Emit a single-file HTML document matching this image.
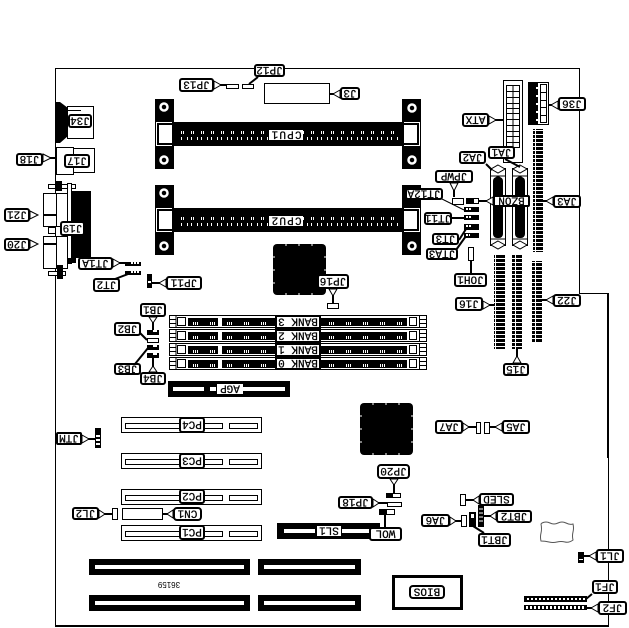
<!DOCTYPE html>
<html><head><meta charset="utf-8"><style>
html,body{margin:0;padding:0;background:#fff}
svg{display:block}
.c{shape-rendering:crispEdges}
.l{fill:#fff;stroke:#000;stroke-width:2}
.o{fill:#fff;stroke:#000;stroke-width:1}
.k{fill:none;stroke:#000;stroke-width:2}
.n{fill:none;stroke:#000;stroke-width:1}
.w{fill:#fff;stroke:#000;stroke-width:1}
.t{font:11px "Liberation Mono",monospace;text-anchor:middle;fill:#000;stroke:#000;stroke-width:.25}
</style></head><body>
<svg width="629" height="628" viewBox="0 0 629 628" xmlns="http://www.w3.org/2000/svg">
<defs>
<pattern id="st" width="10" height="4" patternUnits="userSpaceOnUse"><rect width="10" height="4" fill="#000"/><rect y="2" width="10" height="1" fill="#fff"/><rect x="5" width="1" height="4" fill="#fff"/></pattern>
<g id="cpu">
<rect class="c" x="155" y="99" width="19" height="70" fill="#000"/>
<rect class="c" x="155" y="122" width="266" height="24" fill="#000"/>
<rect class="c" x="402" y="99" width="19" height="70" fill="#000"/>
<circle cx="164" cy="107" r="3.5" fill="none" stroke="#fff" stroke-width="2.5"/>
<circle cx="164" cy="160" r="3.5" fill="none" stroke="#fff" stroke-width="2.5"/>
<circle cx="412" cy="108" r="3.5" fill="none" stroke="#fff" stroke-width="2.5"/>
<circle cx="412" cy="160" r="3.5" fill="none" stroke="#fff" stroke-width="2.5"/>
<path class="c" d="M172 122.500H156.500V145.500H172M404 122.500H419.500V145.500H404" fill="none" stroke="#fff"/>
<rect class="c" x="159" y="125" width="13" height="18" fill="#fff"/>
<rect class="c" x="404" y="125" width="13" height="18" fill="#fff"/>
<line class="c" x1="181" y1="132.500" x2="400" y2="132.500" stroke="#fff" stroke-width="3" stroke-dasharray="1 1 1 7"/>
<line class="c" x1="181" y1="138.500" x2="400" y2="138.500" stroke="#fff" stroke-width="3" stroke-dasharray="1 5 1 3"/>
</g>
<g id="bank">
<rect class="c" x="169.500" y="0.500" width="257" height="12" fill="#fff" stroke="#000"/>
<rect class="c" x="188" y="3" width="219" height="8" fill="#000"/>
<rect class="c" x="218" y="1" width="4" height="11" fill="#fff"/>
<rect class="c" x="177.500" y="2.500" width="8" height="8" fill="#fff" stroke="#000"/>
<rect class="c" x="409.500" y="2.500" width="7" height="8" fill="#fff" stroke="#000"/>
<path class="c" d="M176 .5V12.500M170 4.500H176M170 8.500H176M419.500 .5V12.500M420 4.500H426M420 8.500H426" stroke="#000" fill="none"/>
<line class="c" x1="193" y1="8.500" x2="405" y2="8.500" stroke="#fff" stroke-width="3" stroke-dasharray="1 1 1 1 1 12"/>
</g>
<g id="pci">
<rect class="c" x="121.500" y=".5" width="140" height="15" fill="#fff" stroke="#000"/>
<rect class="c" x="125.500" y="6.500" width="97" height="5" fill="#fff" stroke="#000"/>
<rect class="c" x="229.500" y="6.500" width="28" height="5" fill="#fff" stroke="#000"/>
</g>
<g id="dsub">
<rect class="o" x="490.500" y="168.500" width="15" height="77"/>
<path d="M498 165l7 4-7 4-7-4zM498 241l7 4-7 4-7-4z" class="o"/>
<rect x="493" y="177" width="10" height="61" rx="4" fill="#000"/>
<rect x="496" y="176" width="4" height="60" rx="2" fill="#000"/>
<path class="n" d="M491 176H505M491 239H505"/>
</g>
</defs>

<g class="c">
<path d="M55.500 626V68.500H579.500V293.500H608" fill="none" stroke="#000"/>
<rect x="55" y="625" width="553" height="2" fill="#000"/>
<rect x="607" y="293" width="2" height="165" fill="#000"/>
<rect x="608" y="458" width="1" height="169" fill="#000"/>
</g>

<!-- back panel -->
<path d="M55 102h5l8 6v28l-8 7h-5z" fill="#000"/>
<rect class="o c" x="67.500" y="106.500" width="26" height="32"/>
<rect class="c" x="68" y="110" width="13" height="1" fill="#000"/>
<rect class="o c" x="56.500" y="147.500" width="17" height="27"/>
<rect class="o c" x="73.500" y="148.500" width="21" height="24"/>
<rect class="c" x="72" y="191" width="19" height="67" fill="#000"/>
<rect class="c" x="48.500" y="184.500" width="27" height="4" fill="#fff" stroke="#000"/>
<rect class="c" x="55" y="181" width="7" height="10" fill="#000"/>
<rect class="c" x="67.500" y="183.500" width="4" height="80" fill="#fff" stroke="#000"/>
<rect class="o c" x="43.500" y="193.500" width="13" height="33"/>
<rect class="o c" x="56.500" y="193.500" width="11" height="33"/>
<rect class="o c" x="43.500" y="236.500" width="13" height="32"/>
<rect class="o c" x="56.500" y="236.500" width="11" height="32"/>
<rect class="c" x="48.500" y="227.500" width="7" height="6" fill="#fff" stroke="#000"/>
<rect class="c" x="48.500" y="271.500" width="17" height="4" fill="#fff" stroke="#000"/>
<rect class="c" x="57" y="265" width="6" height="14" fill="#000"/>
<rect class="c" x="68" y="258" width="8" height="5" fill="#000"/>

<use href="#cpu"/>
<use href="#cpu" y="86"/>

<!-- chips -->
<rect x="273" y="244" width="53" height="51" rx="4" fill="#000"/>
<rect x="360" y="403" width="53" height="52" rx="4" fill="#000"/>
<path class="c" d="M273 257h2M273 270h2M273 283h2M324 257h2M324 270h2M324 283h2M286 244v2M299 244v2M312 244v2M286 293v2M299 293v2M312 293v2M360 416h2M360 429h2M360 442h2M411 416h2M411 429h2M411 442h2M373 403v2M386 403v2M399 403v2M373 453v2M386 453v2M399 453v2" stroke="#fff" fill="none"/>

<!-- small parts top -->
<rect class="o c" x="264.500" y="83.500" width="65" height="20"/>
<rect class="o c" x="226.500" y="84.500" width="12" height="4"/>
<rect class="o c" x="242.500" y="84.500" width="11" height="4"/>

<!-- ATX -->
<rect class="o c" x="503.500" y="80.500" width="19" height="82"/>
<path class="c" d="M506.500 85.500H519.500V147.500H506.500ZM513 85.500V147.500M506.500 91.500H519.500M506.500 97.500H519.500M506.500 103.500H519.500M506.500 108.500H519.500M506.500 113.500H519.500M506.500 119.500H519.500M506.500 125.500H519.500M506.500 131.500H519.500M506.500 136.500H519.500M506.500 142.500H519.500" fill="none" stroke="#000"/>
<!-- J36 -->
<rect class="o c" x="528.500" y="82.500" width="20" height="42"/>
<rect class="c" x="529" y="83" width="9" height="41" fill="#000"/>
<path class="c" d="M540.500 84.500H546.500V122.500H540.500ZM540.500 92.500H546.500M540.500 100.500H546.500M540.500 107.500H546.500M540.500 115.500H546.500" fill="none" stroke="#000"/>
<path class="c" d="M536 88h3M536 96h3M536 104h3M536 112h3M536 120h3" stroke="#fff" stroke-width="2"/>

<!-- strips -->
<rect class="c" x="533" y="129" width="10" height="123" fill="url(#st)"/>
<rect class="c" x="494" y="254" width="11" height="95" fill="url(#st)"/>
<rect class="c" x="512" y="254" width="10" height="95" fill="url(#st)"/>
<rect class="c" x="532" y="261" width="10" height="81" fill="url(#st)"/>

<use href="#dsub"/>
<use href="#dsub" x="22"/>

<!-- headers right group -->
<rect class="o c" x="452.500" y="198.500" width="11" height="6"/>
<rect class="c" x="466" y="198" width="13" height="6" fill="#000"/>
<rect class="c" x="474" y="199" width="4" height="4" fill="#fff"/>
<rect class="c" x="464" y="207" width="15" height="5" fill="#000"/>
<rect class="c" x="464" y="215" width="15" height="5" fill="#000"/>
<rect class="c" x="464" y="224" width="15" height="6" fill="#000"/>
<rect class="c" x="464" y="233" width="15" height="5" fill="#000"/>
<path class="c" d="M466 209h5M466 217h5M466 226h5M466 235h4" stroke="#fff" stroke-width="2" stroke-dasharray="2 1"/>
<rect class="o c" x="468.500" y="247.500" width="5" height="13"/>

<!-- left headers -->
<rect class="c" x="125" y="262" width="16" height="4" fill="#000"/>
<rect class="c" x="125" y="271" width="16" height="4" fill="#000"/>
<path class="c" d="M131 263h9M131 272h9" stroke="#fff" stroke-width="2" stroke-dasharray="2 1"/>
<rect class="c" x="147" y="274" width="5" height="14" fill="#000"/>
<rect class="c" x="148" y="281" width="3" height="2" fill="#fff"/>
<rect class="c" x="147" y="330" width="12" height="5" fill="#000"/>
<rect class="o c" x="147.500" y="338.500" width="11" height="4"/>
<rect class="c" x="147" y="345" width="12" height="5" fill="#000"/>
<rect class="c" x="147" y="353" width="12" height="5" fill="#000"/>
<path class="c" d="M153 331h4M153 346h4M153 354h4" stroke="#fff" stroke-width="2"/>

<!-- banks -->
<use href="#bank" y="315"/>
<use href="#bank" y="329"/>
<use href="#bank" y="343"/>
<use href="#bank" y="357"/>

<!-- AGP -->
<rect class="c" x="168" y="381" width="122" height="16" fill="#000"/>
<rect class="c" x="173" y="387" width="31" height="4" fill="#fff"/>
<rect class="c" x="210" y="387" width="6" height="4" fill="#fff"/>
<rect class="c" x="243" y="387" width="42" height="4" fill="#fff"/>
<rect class="c" x="217" y="384" width="26" height="10" fill="#fff"/>

<!-- PCI -->
<use href="#pci" y="417"/>
<use href="#pci" y="453"/>
<use href="#pci" y="489"/>
<use href="#pci" y="525"/>
<rect class="c" x="95" y="428" width="6" height="20" fill="#000"/>
<path class="c" d="M96 436h4M96 440h4M96 444h4" stroke="#fff" stroke-width="2"/>
<rect class="o c" x="112.500" y="508.500" width="5" height="11"/>
<rect class="o c" x="122.500" y="508.500" width="40" height="11"/>

<!-- ISA -->
<g class="c" fill="#000">
<rect x="89" y="559" width="161" height="16"/><rect x="89" y="595" width="161" height="16"/>
<rect x="258" y="559" width="103" height="16"/><rect x="258" y="595" width="103" height="16"/>
</g>
<g class="c" fill="#fff">
<rect x="95" y="565" width="149" height="4"/><rect x="95" y="601" width="149" height="4"/>
<rect x="264" y="565" width="91" height="4"/><rect x="264" y="601" width="91" height="4"/>
</g>
<text transform="rotate(180 169 584.500)" x="169" y="587" style="font:8px 'Liberation Sans',sans-serif;text-anchor:middle">36159</text>

<!-- SL1 -->
<rect class="c" x="277" y="523" width="103" height="16" fill="#000"/>
<rect class="c" x="284" y="529" width="31" height="4" fill="#fff"/>
<rect class="c" x="342" y="529" width="28" height="4" fill="#fff"/>
<rect class="c" x="317" y="526" width="24" height="10" fill="#fff"/>
<rect class="c" x="379" y="509" width="16" height="6" fill="#000"/>
<rect class="c" x="387" y="510" width="7" height="4" fill="#fff"/>
<rect class="o c" x="387.500" y="502.500" width="14" height="4"/>
<rect class="c" x="386" y="493" width="15" height="5" fill="#000"/>
<rect class="c" x="393" y="494" width="7" height="3" fill="#fff"/>

<!-- BIOS -->
<rect class="c" x="393.500" y="576.500" width="68" height="32" fill="#fff" stroke="#000" stroke-width="3"/>

<!-- JA parts -->
<rect class="o c" x="476.500" y="422.500" width="4" height="11"/>
<rect class="o c" x="484.500" y="422.500" width="5" height="11"/>
<rect class="o c" x="461.500" y="515.500" width="5" height="11"/>
<rect class="o c" x="460.500" y="494.500" width="5" height="11"/>
<rect class="c" x="469" y="512" width="7" height="15" fill="#000"/>
<rect class="c" x="471" y="514" width="3" height="4" fill="#fff"/>
<rect class="c" x="478" y="505" width="6" height="22" fill="#000"/>
<path class="c" d="M479 509h4M479 513h4M479 517h4M479 521h4" stroke="#fff"/>
<path d="M542 523q4-2 8 0t8 0 8 0 7 1q1 4 0 8t0 8q-4 3-8 2t-8 0-8 0-8-1q-1-4 0-8t0-9z" fill="none" stroke="#555" stroke-width="1"/>
<rect class="c" x="578" y="552" width="6" height="11" fill="#000"/>
<rect class="c" x="579" y="559" width="4" height="1" fill="#fff"/>
<rect class="c" x="524" y="596" width="63" height="6" fill="#000"/>
<rect class="c" x="524" y="605" width="63" height="5" fill="#000"/>
<line class="c" x1="527" y1="599" x2="586" y2="599" stroke="#fff" stroke-width="2" stroke-dasharray="2 2"/>
<line class="c" x1="526" y1="607.500" x2="586" y2="607.500" stroke="#fff" stroke-width="3" stroke-dasharray="2 2"/>
<rect class="o c" x="327.500" y="303.500" width="11" height="5"/>

<!-- leaders -->
<g class="k">
<path d="M214 85H226M258 77L249 84M340 94H329M56 158H43M43 215H56M43 244H56"/>
<path d="M489 120H503M558 105H548M553 201H543M486 164L492 170M505 159L520 167"/>
<path d="M454 183V197M493 201H479M452 218H464M459 240L466 229M456 250L466 236M471 260V273"/>
<path d="M483 305H494M517 363V349M553 300H542M463 427H476M502 427H490"/>
<path d="M333 289V303M166 283H152M113 263H125M115 279L128 274M153 317V330M135 328L147 340M135 364L148 348M153 372V358"/>
<path d="M82 439H95M99 514H112M173 514H162M385 527L385 515M373 503H387M394 479V493"/>
<path d="M450 521H461M479 500H466M496 516H484M484 533L473 526M596 556H584M592 594L586 599M598 608H587"/>
</g>
<path d="M440 198L464 210" class="n"/>
<g class="w">
<path d="M214 81l7 4-7 4z"/><path d="M340 90l-7 4 7 4z"/><path d="M43 154l8 4-8 4z"/><path d="M30 211l8 4-8 4z"/><path d="M30 240l8 4-8 4z"/>
<path d="M489 116l7 4-7 4z"/><path d="M558 101l-7 4 7 4z"/><path d="M553 197l-7 4 7 4z"/><path d="M450 183l4 8 4-8z"/><path d="M493 197l-7 4 7 4z"/>
<path d="M483 301l7 4-7 4z"/><path d="M513 363l4-7 4 7z"/><path d="M553 296l-7 4 7 4z"/><path d="M463 423l6 4-6 4z"/><path d="M502 423l-7 4 7 4z"/>
<path d="M329 289l4 7 4-7z"/><path d="M166 279l-7 4 7 4z"/><path d="M113 259l7 4-7 4z"/><path d="M149 317l4 6 4-6z"/><path d="M149 372l4-6 4 6z"/>
<path d="M82 435l7 4-7 4z"/><path d="M99 510l6 4-6 4z"/><path d="M173 510l-6 4 6 4z"/><path d="M373 499l6 4-6 4z"/><path d="M390 479l4 6 4-6z"/>
<path d="M450 517l6 4-6 4z"/><path d="M479 496l-6 4 6 4z"/><path d="M496 512l-6 4 6 4z"/><path d="M596 552l-7 4 7 4z"/><path d="M598 604l-7 4 7 4z"/>
</g>

<!-- labels -->
<rect class="l" x="180" y="79" width="33" height="12" rx="2"/><text class="t" transform="rotate(180 196.500 85)" x="196.500" y="88.500">JP13</text>
<rect class="l" x="255" y="65" width="29" height="11" rx="2"/><text class="t" transform="rotate(180 269.500 70.500)" x="269.500" y="74">JP12</text>
<rect class="l" x="341" y="88" width="18" height="11" rx="2"/><text class="t" transform="rotate(180 350 93.500)" x="350" y="97">J3</text>
<rect class="l" x="69" y="115" width="22" height="12" rx="2"/><text class="t" transform="rotate(180 80 121)" x="80" y="124.500">J34</text>
<rect class="l" x="65" y="155" width="24" height="12" rx="2"/><text class="t" transform="rotate(180 77 161)" x="77" y="164.500">J17</text>
<rect class="l" x="17" y="154" width="25" height="11" rx="2"/><text class="t" transform="rotate(180 29.500 159.500)" x="29.500" y="163">J18</text>
<rect class="l" x="61" y="222" width="23" height="13" rx="2"/><text class="t" transform="rotate(180 72.500 228.500)" x="72.500" y="232">J19</text>
<rect class="l" x="5" y="209" width="24" height="12" rx="2"/><text class="t" transform="rotate(180 17 215)" x="17" y="218.500">J21</text>
<rect class="l" x="5" y="239" width="24" height="11" rx="2"/><text class="t" transform="rotate(180 17 244.500)" x="17" y="248">J20</text>
<rect class="l" x="463" y="114" width="25" height="12" rx="2"/><text class="t" transform="rotate(180 475.500 120)" x="475.500" y="123.500">ATX</text>
<rect class="l" x="559" y="98" width="26" height="12" rx="2"/><text class="t" transform="rotate(180 572 104)" x="572" y="107.500">J36</text>
<rect class="l" x="554" y="196" width="26" height="11" rx="2"/><text class="t" transform="rotate(180 567 201.500)" x="567" y="205">JA3</text>
<rect class="l" x="460" y="152" width="25" height="11" rx="2"/><text class="t" transform="rotate(180 472.500 157.500)" x="472.500" y="161">JA2</text>
<rect class="l" x="489" y="147" width="25" height="11" rx="2"/><text class="t" transform="rotate(180 501.500 152.500)" x="501.500" y="156">JA1</text>
<rect class="l" x="436" y="171" width="36" height="11" rx="2"/><text class="t" transform="rotate(180 454 176.500)" x="454" y="180">JPWP</text>
<rect class="l" x="494" y="196" width="35" height="10" rx="1"/><text class="t" transform="rotate(180 511.500 201)" x="511.500" y="204.500">BZON</text>
<rect class="l" x="406" y="189" width="36" height="10" rx="2"/><text class="t" transform="rotate(180 424 194)" x="424" y="197.500">JT12A</text>
<rect class="l" x="425" y="213" width="26" height="11" rx="2"/><text class="t" transform="rotate(180 438 218.500)" x="438" y="222">JT11</text>
<rect class="l" x="433" y="234" width="25" height="10" rx="2"/><text class="t" transform="rotate(180 445.500 239)" x="445.500" y="242.500">JT3</text>
<rect class="l" x="427" y="249" width="30" height="10" rx="2"/><text class="t" transform="rotate(180 442 254)" x="442" y="257.500">JTA3</text>
<rect class="l" x="455" y="274" width="31" height="12" rx="2"/><text class="t" transform="rotate(180 470.500 280)" x="470.500" y="283.500">JOH1</text>
<rect class="l" x="456" y="298" width="26" height="12" rx="2"/><text class="t" transform="rotate(180 469 304)" x="469" y="307.500">J16</text>
<rect class="l" x="504" y="364" width="24" height="11" rx="2"/><text class="t" transform="rotate(180 516 369.500)" x="516" y="373">J15</text>
<rect class="l" x="554" y="295" width="26" height="11" rx="2"/><text class="t" transform="rotate(180 567 300.500)" x="567" y="304">J22</text>
<rect class="l" x="436" y="421" width="26" height="12" rx="2"/><text class="t" transform="rotate(180 449 427)" x="449" y="430.500">JA7</text>
<rect class="l" x="503" y="421" width="26" height="12" rx="2"/><text class="t" transform="rotate(180 516 427)" x="516" y="430.500">JA5</text>
<rect class="l" x="318" y="275" width="30" height="13" rx="2"/><text class="t" transform="rotate(180 333 281.500)" x="333" y="285">JP16</text>
<rect class="l" x="167" y="277" width="34" height="12" rx="2"/><text class="t" transform="rotate(180 184 283)" x="184" y="286.500">JP11</text>
<rect class="l" x="79" y="258" width="33" height="11" rx="2"/><text class="t" transform="rotate(180 95.500 263.500)" x="95.500" y="267">JT1A</text>
<rect class="l" x="94" y="279" width="25" height="12" rx="2"/><text class="t" transform="rotate(180 106.500 285)" x="106.500" y="288.500">JT2</text>
<rect class="l" x="141" y="304" width="24" height="12" rx="2"/><text class="t" transform="rotate(180 153 310)" x="153" y="313.500">JB1</text>
<rect class="l" x="115" y="323" width="25" height="12" rx="2"/><text class="t" transform="rotate(180 127.500 329)" x="127.500" y="332.500">JB2</text>
<rect class="l" x="115" y="364" width="25" height="10" rx="2"/><text class="t" transform="rotate(180 127.500 369)" x="127.500" y="372.500">JB3</text>
<rect class="l" x="141" y="373" width="24" height="11" rx="2"/><text class="t" transform="rotate(180 153 378.500)" x="153" y="382">JB4</text>
<rect class="l" x="57" y="433" width="24" height="11" rx="1"/><text class="t" transform="rotate(180 69 438.500)" x="69" y="442">JTM</text>
<rect class="l" x="73" y="508" width="25" height="11" rx="2"/><text class="t" transform="rotate(180 85.500 513.500)" x="85.500" y="517">JL2</text>
<rect class="l" x="174" y="508" width="27" height="12" rx="3"/><text class="t" transform="rotate(180 187.500 514)" x="187.500" y="517.500">CN1</text>
<rect class="l" x="370" y="528" width="31" height="12" rx="2"/><text class="t" transform="rotate(180 385.500 534)" x="385.500" y="537.500">WOL</text>
<rect class="l" x="339" y="497" width="33" height="11" rx="2"/><text class="t" transform="rotate(180 355.500 502.500)" x="355.500" y="506">JP18</text>
<rect class="l" x="378" y="465" width="31" height="13" rx="3"/><text class="t" transform="rotate(180 393.500 471.500)" x="393.500" y="475">JP20</text>
<rect class="l" x="410" y="586" width="34" height="12" rx="3"/><text class="t" transform="rotate(180 427 592)" x="427" y="595.500">BIOS</text>
<rect class="l" x="422" y="515" width="27" height="11" rx="2"/><text class="t" transform="rotate(180 435.500 520.500)" x="435.500" y="524">JA6</text>
<rect class="l" x="480" y="494" width="33" height="11" rx="2"/><text class="t" transform="rotate(180 496.500 499.500)" x="496.500" y="503">SLED</text>
<rect class="l" x="497" y="511" width="34" height="11" rx="2"/><text class="t" transform="rotate(180 514 516.500)" x="514" y="520">JBT2</text>
<rect class="l" x="479" y="534" width="31" height="12" rx="2"/><text class="t" transform="rotate(180 494.500 540)" x="494.500" y="543.500">JBT1</text>
<rect class="l" x="597" y="550" width="26" height="12" rx="2"/><text class="t" transform="rotate(180 610 556)" x="610" y="559.500">JL1</text>
<rect class="l" x="593" y="581" width="24" height="12" rx="2"/><text class="t" transform="rotate(180 605 587)" x="605" y="590.500">JF1</text>
<rect class="l" x="599" y="602" width="27" height="12" rx="2"/><text class="t" transform="rotate(180 612.500 608)" x="612.500" y="611.500">JF2</text>

<!-- slot labels -->
<rect class="c" x="269" y="130" width="34" height="10" fill="#fff"/><text class="t" style="letter-spacing:1.2px" transform="rotate(180 286 135)" x="286" y="138.500">CPU1</text>
<rect class="c" x="269" y="216" width="34" height="10" fill="#fff"/><text class="t" style="letter-spacing:1.2px" transform="rotate(180 286 221)" x="286" y="224.500">CPU2</text>
<rect class="l" x="276" y="316" width="44" height="12"/><text class="t" transform="rotate(180 298 322)" x="298" y="325.500">BANK 3</text>
<rect class="l" x="276" y="330" width="44" height="12"/><text class="t" transform="rotate(180 298 336)" x="298" y="339.500">BANK 2</text>
<rect class="l" x="276" y="344" width="44" height="12"/><text class="t" transform="rotate(180 298 350)" x="298" y="353.500">BANK 1</text>
<rect class="l" x="276" y="358" width="44" height="11"/><text class="t" transform="rotate(180 298 363.500)" x="298" y="367">BANK 0</text>
<text class="t" transform="rotate(180 230 389)" x="230" y="392.500">AGP</text>
<rect class="l" x="180" y="418" width="24" height="14" rx="2"/><text class="t" transform="rotate(180 192 425)" x="192" y="428.500">PC4</text>
<rect class="l" x="180" y="454" width="24" height="14" rx="2"/><text class="t" transform="rotate(180 192 461)" x="192" y="464.500">PC3</text>
<rect class="l" x="180" y="490" width="24" height="13" rx="2"/><text class="t" transform="rotate(180 192 496.500)" x="192" y="500">PC2</text>
<rect class="l" x="180" y="526" width="24" height="13" rx="2"/><text class="t" transform="rotate(180 192 532.500)" x="192" y="536">PC1</text>
<text class="t" transform="rotate(180 329 531)" x="329" y="534.500">SL1</text>
</svg>
</body></html>
